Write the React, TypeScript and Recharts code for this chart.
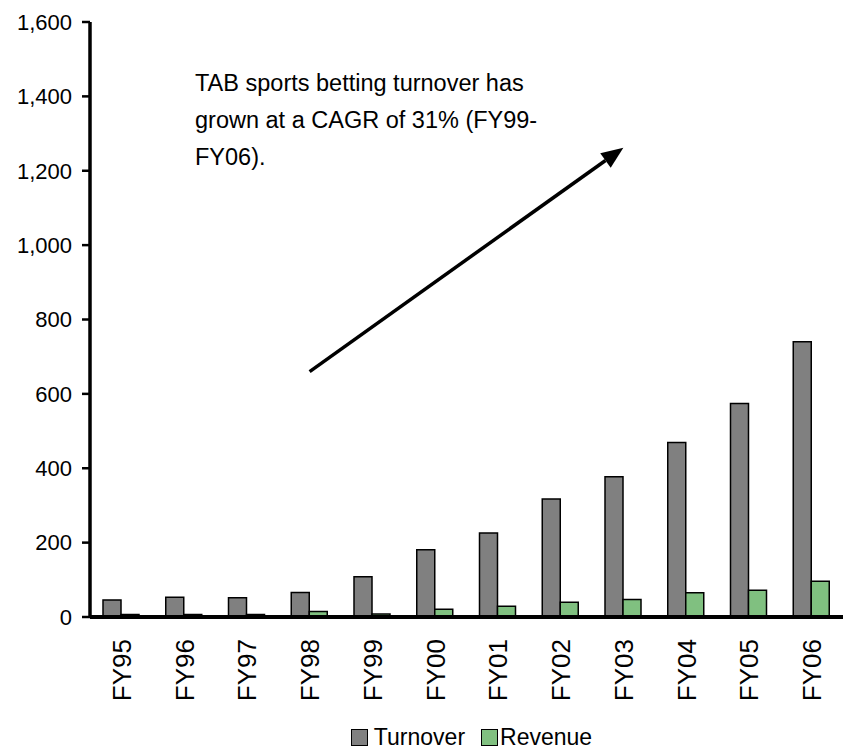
import { BarChart, Bar, XAxis, YAxis, Legend, ReferenceLine } from 'recharts';

const years = ['FY95', 'FY96', 'FY97', 'FY98', 'FY99', 'FY00', 'FY01', 'FY02', 'FY03', 'FY04', 'FY05', 'FY06'];
const turnover = [46, 53, 52, 66, 108, 181, 226, 317, 377, 469, 574, 740];
const revenue = [7, 7, 7, 15, 8, 21, 29, 40, 47, 65, 72, 96];
const yTicks = [0, 200, 400, 600, 800, 1000, 1200, 1400, 1600];

// arrow drawn in data space: from FY98 to FY03
const arrowFrom = { x: 'FY98', y: 660 };
const arrowTo = { x: 'FY03', y: 1262 };

const data = years.map((year, i) => ({ year, turnover: turnover[i], revenue: revenue[i] }));

const FONT = 'Arial, "Liberation Sans", sans-serif';

const XTick = (props: any) => {
  const { x, y, payload } = props;
  return (
    <g transform={`translate(${x},${y})`}>
      <text
        transform="rotate(-90)"
        x={-14}
        y={0}
        dy="0.36em"
        textAnchor="end"
        fontSize={26}
        fontFamily={FONT}
        fill="#000"
      >
        {payload.value}
      </text>
    </g>
  );
};

const Arrow = (props: any) => {
  const { x1, y1, x2, y2 } = props;
  const ang = Math.atan2(y2 - y1, x2 - x1);
  const len = 22;
  const half = 9;
  const bx = x2 - len * Math.cos(ang);
  const by = y2 - len * Math.sin(ang);
  const px = -Math.sin(ang) * half;
  const py = Math.cos(ang) * half;
  return (
    <g>
      <line x1={x1} y1={y1} x2={bx} y2={by} stroke="#000" strokeWidth={3.5} />
      <polygon points={`${x2},${y2} ${bx + px},${by + py} ${bx - px},${by - py}`} fill="#000" />
    </g>
  );
};

const LegendContent = () => (
  <div
    style={{
      display: 'flex',
      justifyContent: 'center',
      alignItems: 'center',
      boxSizing: 'border-box',
      height: 30,
      paddingTop: 4,
      paddingLeft: 100,
      fontFamily: FONT,
      fontSize: 23,
      lineHeight: '26px',
      color: '#000',
    }}
  >
    <span style={{ width: 15, height: 15, background: '#808080', border: '1.5px solid #000', marginRight: 6 }} />
    <span style={{ marginRight: 16 }}>Turnover</span>
    <span style={{ width: 15, height: 15, background: '#80c080', border: '1.5px solid #000', marginRight: 2 }} />
    <span>Revenue</span>
  </div>
);

export default function App() {
  return (
    <div style={{ position: 'absolute', left: 0, top: 0, width: 843, height: 750, background: '#fff' }}>
      <BarChart
        width={843}
        height={750}
        data={data}
        margin={{ top: 22, right: 0, left: 0, bottom: 0 }}
        barGap={0}
        barSize={18}
      >
        <XAxis
          dataKey="year"
          height={103}
          interval={0}
          tickLine={false}
          axisLine={{ stroke: '#000', strokeWidth: 4 }}
          tick={<XTick />}
        />
        <YAxis
          width={90}
          domain={[0, 1600]}
          ticks={yTicks}
          interval={0}
          tickSize={8}
          tickMargin={10}
          axisLine={{ stroke: '#000', strokeWidth: 3.5 }}
          tickLine={{ stroke: '#000', strokeWidth: 2.5 }}
          tick={{ fontSize: 22, fontFamily: FONT, fill: '#000' }}
          tickFormatter={(v: number) => v.toLocaleString('en-US')}
        />
        <Legend verticalAlign="bottom" height={30} content={<LegendContent />} />
        <Bar dataKey="turnover" name="Turnover" fill="#808080" stroke="#000" strokeWidth={1.5} isAnimationActive={false} />
        <Bar dataKey="revenue" name="Revenue" fill="#80c080" stroke="#000" strokeWidth={1.5} isAnimationActive={false} />
        <ReferenceLine segment={[arrowFrom, arrowTo]} shape={<Arrow />} ifOverflow="visible" />
      </BarChart>
      <div
        style={{
          position: 'absolute',
          left: 195,
          top: 65,
          fontFamily: FONT,
          fontSize: 23.5,
          lineHeight: '37px',
          color: '#000',
          whiteSpace: 'nowrap',
        }}
      >
        TAB sports betting turnover has
        <br />
        grown at a CAGR of 31% (FY99-
        <br />
        FY06).
      </div>
    </div>
  );
}
